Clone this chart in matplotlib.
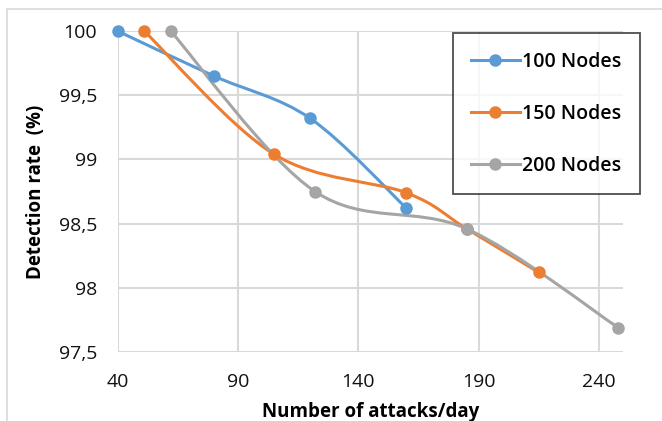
import numpy as np
import matplotlib
matplotlib.use('Agg')
import matplotlib.pyplot as plt
from matplotlib.path import Path
from matplotlib.patches import PathPatch, Rectangle
from matplotlib.lines import Line2D

plt.rcParams['font.family'] = ['Open Sans', 'DejaVu Sans']

# values
x100 = [40, 80, 120, 160]
y100 = [100, 99.65, 99.32, 98.62]
x150 = [51, 105, 160, 185, 215]
y150 = [100, 99.04, 98.74, 98.46, 98.12]
x200 = [62, 122, 185, 248]
y200 = [100, 98.75, 98.46, 97.69]
labels = ['100 Nodes', '150 Nodes', '200 Nodes']
colors = ['#5B9BD5', '#ED7D31', '#A5A5A5']
xticks = [40, 90, 140, 190, 240]
yticks = [97.5, 98, 98.5, 99, 99.5, 100]
ytick_labels = ['97,5', '98', '98,5', '99', '99,5', '100']


def smooth_path(xs, ys):
    # Excel-style smoothed line: cubic Bezier segments with 1/6 tangents
    p = np.column_stack([xs, ys]).astype(float)
    n = len(p)
    verts = [p[0]]
    codes = [Path.MOVETO]
    for i in range(n - 1):
        p0 = p[i - 1] if i > 0 else p[i]
        p1 = p[i]
        p2 = p[i + 1]
        p3 = p[i + 2] if i + 2 < n else p[i + 1]
        c1 = p1 + (p2 - p0) / 6.0
        c2 = p2 - (p3 - p1) / 6.0
        verts += [c1, c2, p2]
        codes += [Path.CURVE4] * 3
    return Path(verts, codes)


fig = plt.figure(figsize=(6.62, 4.21), dpi=100)
ax = fig.add_axes([0.178, 0.164, 0.763, 0.762])

series = [(x100, y100), (x150, y150), (x200, y200)]
handles = []
for (xs, ys), c, lab in zip(series, colors, labels):
    patch = PathPatch(smooth_path(xs, ys), facecolor='none', edgecolor=c,
                      linewidth=2.2, zorder=3)
    ax.add_patch(patch)
    ax.plot(xs, ys, linestyle='none', marker='o', markersize=8,
            color=c, zorder=4, clip_on=False)
    handles.append(Line2D([0], [0], color=c, linewidth=2.2, marker='o',
                          markersize=8, label=lab))

ax.set_xlim(40, 250)
ax.set_ylim(97.5, 100)
ax.set_xticks(xticks)
ax.set_yticks(yticks)
ax.set_yticklabels(ytick_labels)
ax.grid(True, color='#d9d9d9', linewidth=1.5)
ax.set_axisbelow(True)
for s in ax.spines.values():
    s.set_visible(False)
ax.tick_params(length=0, labelsize=14, colors='#111111')
ax.tick_params(axis='y', pad=15)
ax.tick_params(axis='x', pad=15)
ax.set_xlabel('Number of attacks/day', fontsize=13.5, fontweight='bold', labelpad=8)
ax.set_ylabel('Detection rate  (%)', fontsize=13.5, fontweight='bold', labelpad=9)

leg = ax.legend(handles=handles, loc='upper left', bbox_to_anchor=(0.663, 0.994),
                frameon=True, fancybox=False, edgecolor='#222222', fontsize=14,
                handlelength=2.5, labelspacing=1.65, borderpad=0.95,
                handletextpad=0.1, borderaxespad=0)
leg.get_frame().set_linewidth(1.3)
for t in leg.get_texts():
    t.set_fontweight('semibold')

fig.patches.append(Rectangle((0.011, -0.1), 1.5, 1.079, transform=fig.transFigure,
                             facecolor='none', edgecolor='#d9d9d9', linewidth=1.2))

fig.savefig('out.png', dpi=100)
